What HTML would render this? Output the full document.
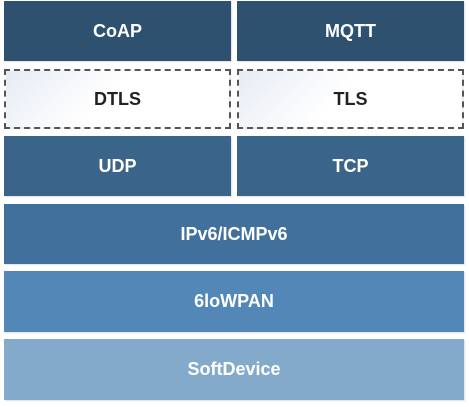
<!DOCTYPE html><html><head><style>
body{margin:0;width:469px;height:407px;background:#fff;position:relative;overflow:hidden;font-family:"Liberation Sans",sans-serif;}
.b{position:absolute;box-sizing:border-box;display:flex;align-items:center;justify-content:center;color:#fff;font-weight:bold;font-size:18px;box-shadow:1px 1px 1px rgba(0,0,0,0.12);}
.d{border:2px dashed #555;color:#222;background:linear-gradient(135deg,#e6ebf4,#fff 45%);box-shadow:none;}
</style></head><body>
<div class="b" style="left:4px;top:1px;width:227px;height:60px;background:#2f5170">CoAP</div>
<div class="b" style="left:237px;top:1px;width:227px;height:60px;background:#2f5170">MQTT</div>
<div class="b d" style="left:4px;top:69px;width:227px;height:60px">DTLS</div>
<div class="b d" style="left:237px;top:69px;width:227px;height:60px">TLS</div>
<div class="b" style="left:4px;top:136px;width:227px;height:60px;background:#3a6489">UDP</div>
<div class="b" style="left:237px;top:136px;width:227px;height:60px;background:#3a6489">TCP</div>
<div class="b" style="left:4px;top:204px;width:460px;height:60px;background:#41709c">IPv6/ICMPv6</div>
<div class="b" style="left:4px;top:271px;width:460px;height:61px;background:#5287b8">6loWPAN</div>
<div class="b" style="left:4px;top:339px;width:460px;height:61px;background:#84aacb">SoftDevice</div>
</body></html>
